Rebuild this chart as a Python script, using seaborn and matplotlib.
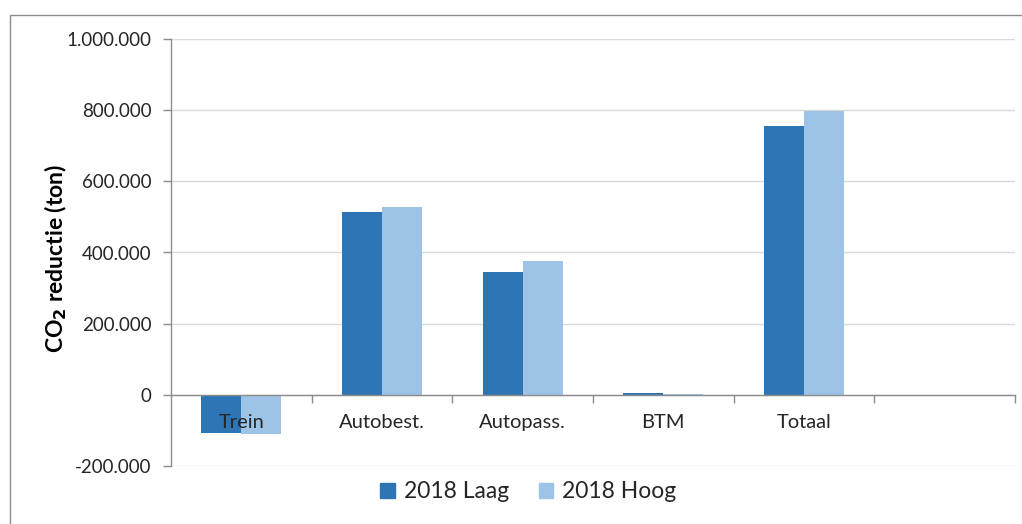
import matplotlib
matplotlib.use("Agg")
import matplotlib.pyplot as plt
import matplotlib.ticker as mticker
from matplotlib.patches import Rectangle
import seaborn as sns
import pandas as pd

categories = ["Trein", "Autobest.", "Autopass.", "BTM", "Totaal", ""]
series_names = ["2018 Laag", "2018 Hoog"]
laag = [-107000, 514000, 346000, 5000, 755000]
hoog = [-110000, 529000, 377000, 3000, 797000]
colors = ["#2E75B6", "#9DC3E6"]
yticks = [-200000, 0, 200000, 400000, 600000, 800000, 1000000]

rows = []
for c, v in zip(categories[:5], laag):
    rows.append({"cat": c, "serie": series_names[0], "val": v})
for c, v in zip(categories[:5], hoog):
    rows.append({"cat": c, "serie": series_names[1], "val": v})
df = pd.DataFrame(rows)

sns.set_theme(style="white")
plt.rcParams["font.family"] = ["Lato", "DejaVu Sans"]

W, H = 1022, 524
fig = plt.figure(figsize=(W / 100, H / 100), dpi=100)
ax = fig.add_axes([171 / W, 1 - 466 / H, (1015 - 171) / W, (466 - 39) / H])

sns.barplot(data=df, x="cat", y="val", hue="serie", order=categories,
            hue_order=series_names, palette=colors, width=0.57,
            linewidth=0, saturation=1, ax=ax, legend=True, errorbar=None)

ax.set_xlim(-0.5, 5.5)
ax.set_ylim(-200000, 1000000)
ax.set_yticks(yticks)
ax.yaxis.set_major_formatter(mticker.FuncFormatter(
    lambda v, p: f"{int(v):,}".replace(",", ".")))
ax.grid(axis="y", color="#D9D9D9", lw=1)
ax.set_axisbelow(True)
ax.xaxis.set_zorder(3)

spine_c = "#8C8C8C"
for s in ["top", "right"]:
    ax.spines[s].set_visible(False)
ax.spines["left"].set_color(spine_c)
ax.spines["bottom"].set_color(spine_c)
ax.spines["bottom"].set_position(("data", 0))
ax.spines["left"].set_linewidth(1)
ax.spines["bottom"].set_linewidth(1)

ax.tick_params(axis="y", which="major", direction="out", length=6, width=1,
               color=spine_c, pad=8, labelsize=13.5, labelcolor="#262626", left=True)
ax.set_xticks([i + 0.5 for i in range(6)])
ax.set_xticklabels([])
ax.set_xticks(range(6), minor=True)
ax.set_xticklabels(categories, minor=True)
ax.tick_params(axis="x", which="major", direction="out", length=6, width=1,
               color=spine_c, bottom=True)
ax.tick_params(axis="x", which="minor", length=0, pad=14, labelsize=14.5,
               labelcolor="#262626")
ax.set_xlabel("")
ax.set_ylabel("")

fig.text(56 / W, 1 - 258 / H, r"CO$_{\mathbf{2}}$ reductie (ton)", rotation=90,
         ha="center", va="center", fontsize=16.5, fontweight="bold", color="black")

ax.get_legend().remove()
handles = [Rectangle((0, 0), 1, 1, color=c) for c in colors]
fig.legend(handles, series_names, loc="center", bbox_to_anchor=(0.517, 1 - 492 / H),
           ncol=2, frameon=False, fontsize=16.5, handlelength=0.62, handleheight=0.62,
           handletextpad=0.4, columnspacing=1.3, labelcolor="#262626")

fig.add_artist(Rectangle((10 / W, -0.1), 2, (1 - 15 / H) + 0.1, fill=False,
                         edgecolor="#8C8C8C", lw=1, transform=fig.transFigure))

fig.savefig("out.png", dpi=100)
